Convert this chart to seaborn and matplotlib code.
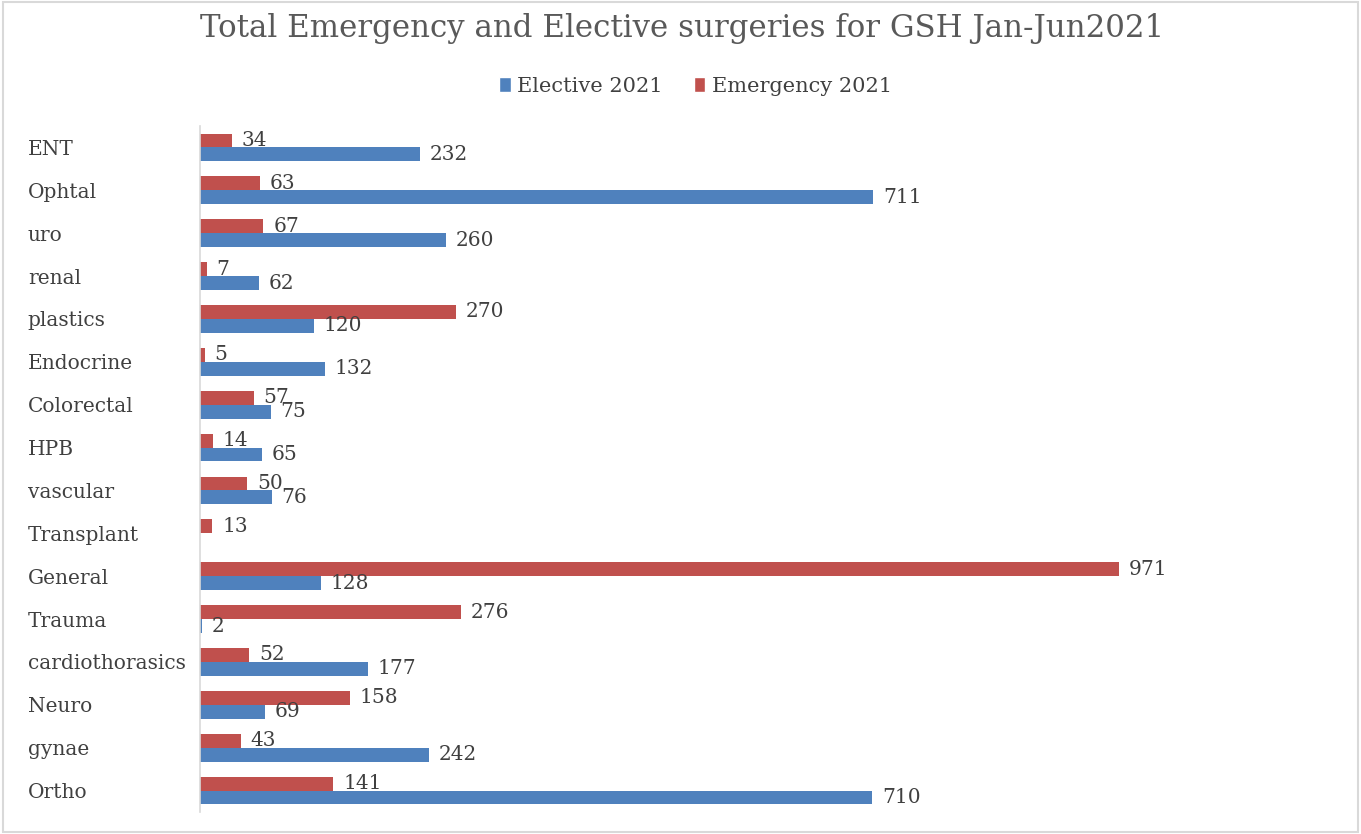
import matplotlib
matplotlib.use("Agg")
import matplotlib.pyplot as plt
from matplotlib.patches import Rectangle, Patch
import seaborn as sns
import pandas as pd
import numpy as np

categories = ["ENT", "Ophtal", "uro", "renal", "plastics", "Endocrine", "Colorectal",
              "HPB", "vascular", "Transplant", "General", "Trauma", "cardiothorasics",
              "Neuro", "gynae", "Ortho"]
elective_2021 = [232, 711, 260, 62, 120, 132, 75, 65, 76, np.nan, 128, 2, 177, 69, 242, 710]
emergency_2021 = [34, 63, 67, 7, 270, 5, 57, 14, 50, 13, 971, 276, 52, 158, 43, 141]
series_names = ["Elective 2021", "Emergency 2021"]

BLUE = "#4F81BD"
RED = "#C0504D"
TEXT = "#404040"

sns.set_theme(style="white")
plt.rcParams["font.family"] = ["DejaVu Serif"]

df = pd.concat([
    pd.DataFrame({"Specialty": categories, "Series": series_names[1], "Count": emergency_2021}),
    pd.DataFrame({"Specialty": categories, "Series": series_names[0], "Count": elective_2021}),
]).dropna()

fig = plt.figure(figsize=(13.61, 8.34), dpi=100)
ax = fig.add_axes([200 / 1361, 1 - 812 / 834, 1136 / 1361, (812 - 126) / 834])

sns.barplot(data=df, x="Count", y="Specialty", hue="Series", orient="h",
            order=categories, hue_order=[series_names[1], series_names[0]],
            palette={series_names[0]: BLUE, series_names[1]: RED},
            width=0.65, saturation=1, linewidth=0, legend=False, ax=ax)

for c in ax.containers:
    ax.bar_label(c, fmt="%d", padding=7, color=TEXT, fontsize=14.5)

ax.set_xlim(0, 1200)
ax.set_xlabel("")
ax.set_ylabel("")
ax.set_xticks([])
for s in ["top", "right", "bottom"]:
    ax.spines[s].set_visible(False)
ax.spines["left"].set_color("#D9D9D9")
ax.spines["left"].set_linewidth(1.2)

ax.tick_params(axis="y", length=0, pad=124, labelsize=14.5, labelcolor=TEXT)
for lbl in ax.get_yticklabels():
    lbl.set_ha("left")

fig.text(0.501, 1 - 28 / 834, "Total Emergency and Elective surgeries for GSH Jan-Jun2021",
         ha="center", va="center", fontsize=22.2, color="#595959")

handles = [Patch(facecolor=BLUE, label=series_names[0]),
           Patch(facecolor=RED, label=series_names[1])]
fig.legend(handles=handles, loc="center", bbox_to_anchor=(0.511, 1 - 86 / 834), ncol=2,
           frameon=False, fontsize=15, labelcolor=TEXT, handlelength=0.55, handleheight=0.7,
           handletextpad=0.3, columnspacing=1.5)

fig.patches.append(Rectangle((0.002, 0.002), 0.996, 0.996, transform=fig.transFigure,
                             fill=False, edgecolor="#D9D9D9", linewidth=1.5))

fig.savefig("out.png", dpi=100, facecolor="white")
